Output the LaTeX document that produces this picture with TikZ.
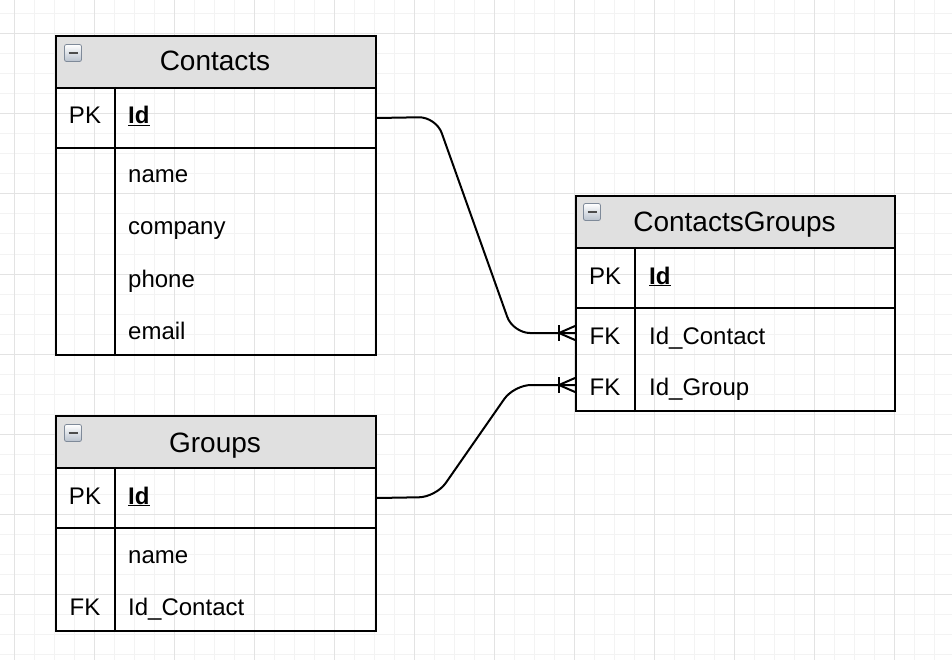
\documentclass[tikz,border=0pt]{standalone}
\usepackage{fontspec}
\setmainfont{Liberation Sans}
\definecolor{hdrgray}{HTML}{E0E0E0}
\definecolor{gridminor}{HTML}{F3F3F3}
\definecolor{gridmajor}{HTML}{E3E3E3}
\definecolor{iconbot}{HTML}{B9C2CE}
\definecolor{iconedge}{HTML}{7F8A99}
\tikzset{
  hdr/.style={draw, line width=2pt, fill=hdrgray, anchor=north west, inner sep=0pt, minimum height=52pt, minimum width=320pt},
  cell/.style={draw, line width=2pt, anchor=north west, inner sep=0pt, minimum width=320pt},
  ttl/.style={font=\fontsize{28}{34}\selectfont, inner sep=0pt, anchor=base},
  txt/.style={font=\fontsize{24}{29}\selectfont, inner sep=0pt, anchor=base west},
  keytxt/.style={font=\fontsize{24}{29}\selectfont, inner sep=0pt, anchor=base},
  divider/.style={line width=2pt},
  conn/.style={line width=2pt},
  icon/.style={draw=iconedge, line width=0.8pt, rounded corners=2pt, minimum size=17pt, inner sep=0pt,
    top color=white, bottom color=iconbot,
    path picture={\draw[line width=2.2pt, black!70] ([xshift=-4.5pt]path picture bounding box.center) -- ([xshift=4.5pt]path picture bounding box.center);}},
  gminor/.style={gridminor, line width=1pt},
  gmajor/.style={gridmajor, line width=1pt}
}
\begin{document}
\begin{tikzpicture}[x=1pt,y=-1pt]
\useasboundingbox (0,0) rectangle (952,660);
\fill[white] (0,0) rectangle (952,660);
% grid
\foreach \x in {14,34,...,954} \draw[gminor] (\x,0) -- (\x,660);
\foreach \y in {14,34,...,654} \draw[gminor] (0,\y) -- (952,\y);
\foreach \x in {14,94,...,954} \draw[gmajor] (\x,0) -- (\x,660);
\foreach \y in {34,114,...,674} \draw[gmajor] (0,\y) -- (952,\y);

% ---------- Contacts ----------
\node[cell, minimum height=207pt] (contactsAttr) at (55,147) {};
\node[cell, minimum height=60pt] (contactsPK) at (55,87) {};
\node[hdr] (contactsHdr) at (55,35) {};
\draw[divider] (115,87) -- (115,354);
\node[icon] (contactsIcon) at (73,53) {};
\node[ttl] (contactsTitle) at (215,71) {Contacts};
\node[keytxt] (contactsPKk) at (85,124) {PK};
\node[txt] (contactsId) at (128,124) {\textbf{\underline{Id}}};
\node[txt] (contactsName) at (128,183) {name};
\node[txt] (contactsCompany) at (128,235) {company};
\node[txt] (contactsPhone) at (128,287) {phone};
\node[txt] (contactsEmail) at (128,339) {email};

% ---------- Groups ----------
\node[cell, minimum height=103pt] (groupsAttr) at (55,527) {};
\node[cell, minimum height=60pt] (groupsPK) at (55,467) {};
\node[hdr] (groupsHdr) at (55,415) {};
\draw[divider] (115,467) -- (115,630);
\node[icon] (groupsIcon) at (73,433) {};
\node[ttl] (groupsTitle) at (215,452) {Groups};
\node[keytxt] (groupsPKk) at (85,504) {PK};
\node[txt] (groupsId) at (128,504) {\textbf{\underline{Id}}};
\node[txt] (groupsName) at (128,563) {name};
\node[keytxt] (groupsFKk) at (85,615) {FK};
\node[txt] (groupsIdContact) at (128,615) {Id\_Contact};

% ---------- ContactsGroups ----------
\node[cell, minimum height=103pt, minimum width=319pt] (cgAttr) at (575,307) {};
\node[cell, minimum height=60pt, minimum width=319pt] (cgPK) at (575,247) {};
\node[hdr, minimum width=319pt] (cgHdr) at (575,195) {};
\draw[divider] (635,247) -- (635,410);
\node[icon] (cgIcon) at (592,212) {};
\node[ttl] (cgTitle) at (734.5,232) {ContactsGroups};
\node[keytxt] (cgPKk) at (605,284) {PK};
\node[txt] (cgId) at (649,284) {\textbf{\underline{Id}}};
\node[keytxt] (cgFK1k) at (605,344) {FK};
\node[txt] (cgIdContact) at (649,344) {Id\_Contact};
\node[keytxt] (cgFK2k) at (605,395) {FK};
\node[txt] (cgIdGroup) at (649,395) {Id\_Group};

\coordinate (cgfk1) at (575,333);
\coordinate (cgfk2) at (575,385);

% ---------- connectors ----------
\draw[conn, rounded corners=17pt] (contactsPK.east) -- (436,117) -- (513,333) -- (cgfk1);
\draw[conn, rounded corners=17pt] (groupsPK.east) -- (436,497) -- (514,385) -- (cgfk2);
% crow's feet
\draw[conn] (cgfk1) ++(-16,-8) -- ++(0,16);
\draw[conn] (cgfk1) ++(0,-7) -- ++(-16,7) -- ++(16,7);
\draw[conn] (cgfk2) ++(-16,-8) -- ++(0,16);
\draw[conn] (cgfk2) ++(0,-7) -- ++(-16,7) -- ++(16,7);
\end{tikzpicture}
\end{document}
